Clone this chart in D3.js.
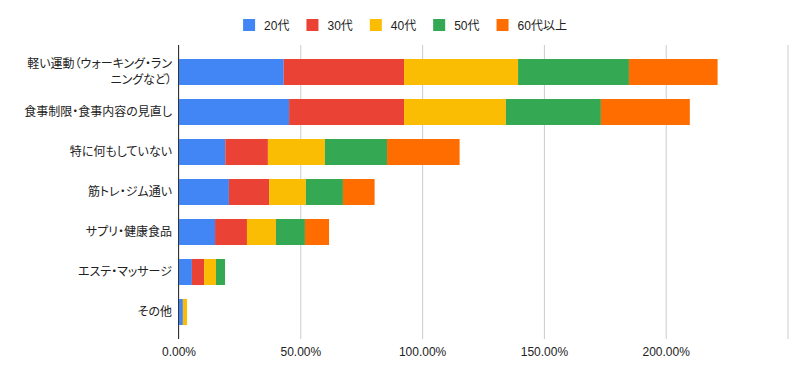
<!DOCTYPE html>
<meta charset="utf-8">
<script src="https://cdn.jsdelivr.net/npm/d3@7"></script>
<style>
  body { margin: 0; background: #fff; }
  text { font-family: Arial, "Liberation Sans", "Noto Sans CJK JP", sans-serif; font-feature-settings: "palt"; }
</style>
<div id="chart"></div>
<script>

// categories (y axis), top to bottom
var categories = [
  "軽い運動（ウォーキング・ランニングなど）",
  "食事制限・食事内容の見直し",
  "特に何もしていない",
  "筋トレ・ジム通い",
  "サプリ・健康食品",
  "エステ・マッサージ",
  "その他"
];

// series names
var seriesNames = ["20代", "30代", "40代", "50代", "60代以上"];

// values in %, one array per series (same order as categories)
var s20 = [43.2, 45.4, 19.2, 20.7, 15.0, 5.5, 1.8];
var s30 = [49.4, 47.2, 17.5, 16.5, 13.1, 5.0, 0];
var s40 = [46.8, 41.8, 23.4, 15.1, 11.9, 4.9, 1.7];
var s50 = [45.5, 39.0, 25.5, 15.2, 11.9, 3.7, 0];
var s60 = [36.4, 36.5, 29.8, 13.0, 9.9, 0, 0];

// x axis ticks
var xTicks = [0, 50, 100, 150, 200, 250];

var colors = ["#4285f4", "#ea4335", "#fbbc04", "#34a853", "#ff6d01"];

var width = 806, height = 377;

var svg = d3.select("#chart")
  .append("svg")
    .attr("width", width)
    .attr("height", height);

// build table for stacking
var table = categories.map(function(c, i) {
  return { cat: c, "20代": s20[i], "30代": s30[i], "40代": s40[i], "50代": s50[i], "60代以上": s60[i] };
});
var stacked = d3.stack().keys(seriesNames)(table);

var x = d3.scaleLinear()
  .domain([0, 250])
  .range([178.5, 787.5]);

var y = d3.scaleBand()
  .domain(categories)
  .range([52, 332])
  .paddingInner(0.35)
  .paddingOuter(0.175);

var plotTop = 45, plotBottom = 339;

// gridlines + tick labels
var xAxis = svg.append("g")
  .attr("transform", "translate(0," + plotBottom + ")")
  .call(d3.axisBottom(x)
    .tickValues(xTicks)
    .tickSize(-(plotBottom - plotTop))
    .tickPadding(8)
    .tickFormat(function(d) { return d === 250 ? "" : d.toFixed(2) + "%"; }));
xAxis.select(".domain").remove();
xAxis.selectAll(".tick line")
  .attr("stroke", "#cccccc");
xAxis.selectAll(".tick text")
  .attr("fill", "#222")
  .style("font-size", "12px");

// bars
svg.append("g")
  .selectAll("g")
  .data(stacked)
  .enter()
  .append("g")
    .attr("fill", function(d, i) { return colors[i]; })
  .selectAll("rect")
  .data(function(d) { return d; })
  .enter()
  .append("rect")
    .attr("x", function(d) { return x(d[0]); })
    .attr("y", function(d) { return y(d.data.cat); })
    .attr("width", function(d) { return x(d[1]) - x(d[0]); })
    .attr("height", y.bandwidth());

// baseline at 0
svg.append("line")
  .attr("x1", x(0)).attr("x2", x(0))
  .attr("y1", plotTop).attr("y2", plotBottom)
  .attr("stroke", "#333")
  .attr("stroke-width", 1);

// y labels (first one wraps in two lines)
var labelLines = {
  "軽い運動（ウォーキング・ランニングなど）": ["軽い運動（ウォーキング・ラン", "ニングなど）"]
};
var yLab = svg.append("g")
  .selectAll("text")
  .data(categories)
  .enter()
  .append("text")
    .attr("text-anchor", "end")
    .attr("x", 172)
    .attr("y", function(d) { return y(d) + y.bandwidth() / 2; })
    .attr("fill", "#222")
    .style("font-size", "12px");
yLab.each(function(d) {
  var lines = labelLines[d] || [d];
  var t = d3.select(this);
  lines.forEach(function(l, i) {
    t.append("tspan")
      .attr("x", 172)
      .attr("dy", i === 0 ? (0.35 - (lines.length - 1) * 0.65) + "em" : "1.3em")
      .text(l);
  });
});

// legend
var legend = svg.append("g");
var lx = 0;
seriesNames.forEach(function(name, i) {
  var item = legend.append("g").attr("transform", "translate(" + lx + ",0)");
  item.append("rect")
    .attr("x", 0).attr("y", 19)
    .attr("width", 12).attr("height", 12)
    .attr("fill", colors[i]);
  var t = item.append("text")
    .attr("x", 21).attr("y", 29.5)
    .attr("fill", "#222")
    .style("font-size", "12px")
    .text(name);
  lx += 21 + t.node().getComputedTextLength() + 17;
});
lx -= 17;
legend.attr("transform", "translate(" + (405 - lx / 2) + ",0)");

</script>
